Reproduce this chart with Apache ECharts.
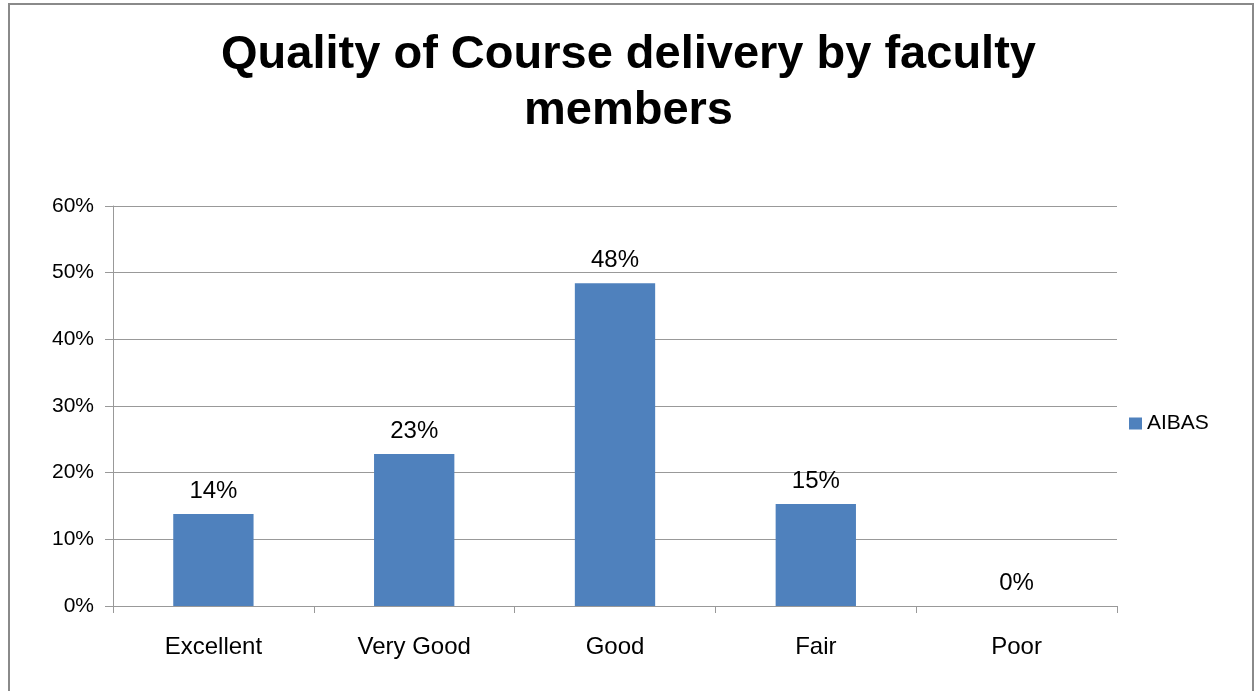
<!DOCTYPE html>
<html>
<head>
<meta charset="utf-8">
<script src="https://cdn.jsdelivr.net/npm/echarts@6/dist/echarts.min.js"></script>
<style>
  html, body { margin: 0; padding: 0; background: #fff; }
  #frame {
    position: absolute; left: 8px; top: 3px; width: 1246px; height: 700px;
    border: 2px solid #8a8a8a; border-bottom: none; box-sizing: border-box;
  }
  #chart { position: absolute; left: 0; top: 0; width: 1257px; height: 691px; }
</style>
</head>
<body>
<div id="frame"></div>
<div id="chart"></div>
<script>
// 课程质量评价数据
var categories = ["Excellent", "Very Good", "Good", "Fair", "Poor"];
var aibasValues = [13.8, 22.8, 48.4, 15.3, 0];
var seriesName = "AIBAS";
var yTicks = [0, 10, 20, 30, 40, 50, 60];

var chart = echarts.init(document.getElementById("chart"));
var fontFamily = "Liberation Sans, Arial, sans-serif";

chart.setOption({
  animation: false,
  title: {
    text: "Quality of Course delivery by faculty\nmembers",
    left: "center",
    top: 22,
    textStyle: {
      fontFamily: fontFamily,
      fontSize: 47,
      fontWeight: "bold",
      color: "#000",
      lineHeight: 56
    }
  },
  legend: {
    data: [seriesName],
    orient: "vertical",
    left: 1124,
    top: 408,
    itemWidth: 13,
    itemHeight: 12,
    itemGap: 6,
    icon: "rect",
    textStyle: { fontFamily: fontFamily, fontSize: 21, color: "#000" }
  },
  grid: {
    left: 113,
    right: 140,
    top: 206,
    bottom: 85,
    containLabel: false
  },
  xAxis: {
    type: "category",
    data: categories,
    axisLine: { lineStyle: { color: "#999", width: 1 } },
    axisTick: { show: true, length: 7, lineStyle: { color: "#999" } },
    axisLabel: {
      fontFamily: fontFamily,
      fontSize: 24,
      color: "#000",
      margin: 29
    }
  },
  yAxis: {
    type: "value",
    min: yTicks[0],
    max: yTicks[yTicks.length - 1],
    interval: 10,
    axisLine: { show: true, lineStyle: { color: "#999" } },
    axisTick: { show: true, length: 8, lineStyle: { color: "#999" } },
    axisLabel: {
      fontFamily: fontFamily,
      fontSize: 21,
      color: "#000",
      margin: 19,
      formatter: "{value}%"
    },
    splitLine: { lineStyle: { color: "#999", width: 1 } }
  },
  series: [
    {
      name: seriesName,
      type: "bar",
      data: aibasValues,
      barWidth: "40%",
      itemStyle: { color: "#4f81bd" },
      label: {
        show: true,
        position: "top",
        distance: 11,
        fontFamily: fontFamily,
        fontSize: 24,
        color: "#000",
        formatter: function (p) { return Math.round(p.value) + "%"; }
      }
    }
  ]
});
</script>
</body>
</html>
